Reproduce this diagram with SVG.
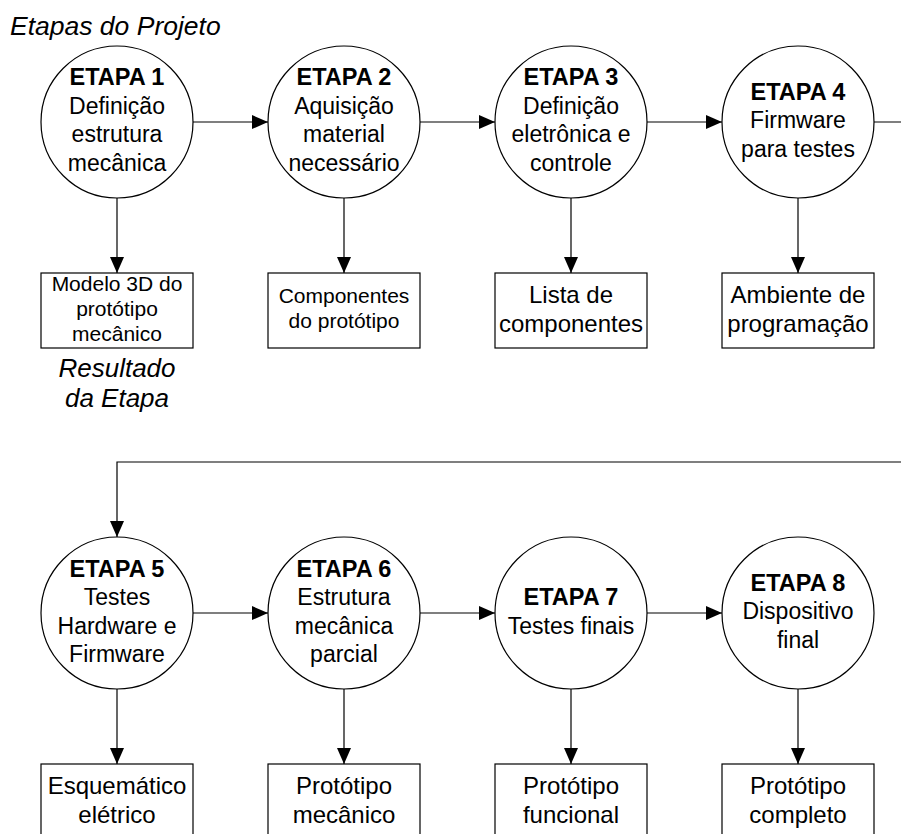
<svg xmlns="http://www.w3.org/2000/svg" width="901" height="834" viewBox="0 0 901 834">
  <style>
    text { font-family: "Liberation Sans", Arial, sans-serif; fill: #000; text-anchor: middle; }
    .title { font-size: 26.5px; font-style: italic; text-anchor: start; }
    .note { font-size: 26px; font-style: italic; }
    .head { font-size: 23.5px; font-weight: bold; }
    .body { font-size: 23px; }
    .out { font-size: 24px; }
    .outs { font-size: 21px; }
    .stage { fill: #fff; stroke: #000; stroke-width: 1.2; }
    .result { fill: #fff; stroke: #000; stroke-width: 1.2; }
    .link { fill: none; stroke: #000; stroke-width: 1.2; marker-end: url(#arrow); }
  </style>
  <defs>
    <marker id="arrow" markerUnits="userSpaceOnUse" markerWidth="16" markerHeight="14" refX="16" refY="7" orient="auto">
      <path d="M0,0 L16,7 L0,14 Z" fill="#000"/>
    </marker>
  </defs>
  <rect width="901" height="834" fill="#fff"/>

  <text class="title" x="10" y="35">Etapas do Projeto</text>

  <!-- connectors -->
  <g id="connectors">
    <line class="link" x1="193" y1="122" x2="268" y2="122"/>
    <line class="link" x1="420" y1="122" x2="495" y2="122"/>
    <line class="link" x1="647" y1="122" x2="722" y2="122"/>
    <path class="link" d="M874,122 H920 V462 H117 V537"/>
    <line class="link" x1="117" y1="198" x2="117" y2="273"/>
    <line class="link" x1="344" y1="198" x2="344" y2="273"/>
    <line class="link" x1="571" y1="198" x2="571" y2="273"/>
    <line class="link" x1="798" y1="198" x2="798" y2="273"/>
    <line class="link" x1="193" y1="613" x2="268" y2="613"/>
    <line class="link" x1="420" y1="613" x2="495" y2="613"/>
    <line class="link" x1="647" y1="613" x2="722" y2="613"/>
    <line class="link" x1="117" y1="689" x2="117" y2="764"/>
    <line class="link" x1="344" y1="689" x2="344" y2="764"/>
    <line class="link" x1="571" y1="689" x2="571" y2="764"/>
    <line class="link" x1="798" y1="689" x2="798" y2="764"/>
  </g>

  <!-- stages, row 1 -->
  <g id="etapa1">
    <circle class="stage" cx="117" cy="122" r="76"/>
    <text class="head" x="117" y="85">ETAPA 1</text>
    <text class="body" x="117" y="113.5">Definição</text>
    <text class="body" x="117" y="142">estrutura</text>
    <text class="body" x="117" y="170.5">mecânica</text>
  </g>
  <g id="etapa2">
    <circle class="stage" cx="344" cy="122" r="76"/>
    <text class="head" x="344" y="85">ETAPA 2</text>
    <text class="body" x="344" y="113.5">Aquisição</text>
    <text class="body" x="344" y="142">material</text>
    <text class="body" x="344" y="170.5">necessário</text>
  </g>
  <g id="etapa3">
    <circle class="stage" cx="571" cy="122" r="76"/>
    <text class="head" x="571" y="85">ETAPA 3</text>
    <text class="body" x="571" y="113.5">Definição</text>
    <text class="body" x="571" y="142">eletrônica e</text>
    <text class="body" x="571" y="170.5">controle</text>
  </g>
  <g id="etapa4">
    <circle class="stage" cx="798" cy="122" r="76"/>
    <text class="head" x="798" y="99.5">ETAPA 4</text>
    <text class="body" x="798" y="128">Firmware</text>
    <text class="body" x="798" y="156.5">para testes</text>
  </g>

  <!-- results, row 1 -->
  <g id="resultado1">
    <rect class="result" x="41" y="273" width="152" height="75"/>
    <text class="outs" x="117" y="291">Modelo 3D do</text>
    <text class="outs" x="117" y="316">protótipo</text>
    <text class="outs" x="117" y="341">mecânico</text>
  </g>
  <g id="resultado2">
    <rect class="result" x="268" y="273" width="152" height="75"/>
    <text class="outs" x="344" y="303">Componentes</text>
    <text class="outs" x="344" y="328">do protótipo</text>
  </g>
  <g id="resultado3">
    <rect class="result" x="495" y="273" width="152" height="75"/>
    <text class="out" x="571" y="303">Lista de</text>
    <text class="out" x="571" y="332">componentes</text>
  </g>
  <g id="resultado4">
    <rect class="result" x="722" y="273" width="152" height="75"/>
    <text class="out" x="798" y="303">Ambiente de</text>
    <text class="out" x="798" y="332">programação</text>
  </g>

  <g id="legenda">
    <text class="note" x="117" y="377">Resultado</text>
    <text class="note" x="117" y="407">da Etapa</text>
  </g>

  <!-- stages, row 2 -->
  <g id="etapa5">
    <circle class="stage" cx="117" cy="613" r="76"/>
    <text class="head" x="117" y="576.5">ETAPA 5</text>
    <text class="body" x="117" y="605">Testes</text>
    <text class="body" x="117" y="633.5">Hardware e</text>
    <text class="body" x="117" y="662">Firmware</text>
  </g>
  <g id="etapa6">
    <circle class="stage" cx="344" cy="613" r="76"/>
    <text class="head" x="344" y="576.5">ETAPA 6</text>
    <text class="body" x="344" y="605">Estrutura</text>
    <text class="body" x="344" y="633.5">mecânica</text>
    <text class="body" x="344" y="662">parcial</text>
  </g>
  <g id="etapa7">
    <circle class="stage" cx="571" cy="613" r="76"/>
    <text class="head" x="571" y="605">ETAPA 7</text>
    <text class="body" x="571" y="634">Testes finais</text>
  </g>
  <g id="etapa8">
    <circle class="stage" cx="798" cy="613" r="76"/>
    <text class="head" x="798" y="590.5">ETAPA 8</text>
    <text class="body" x="798" y="619">Dispositivo</text>
    <text class="body" x="798" y="647.5">final</text>
  </g>

  <!-- results, row 2 -->
  <g id="resultado5">
    <rect class="result" x="41" y="764" width="152" height="75"/>
    <text class="out" x="117" y="794">Esquemático</text>
    <text class="out" x="117" y="823">elétrico</text>
  </g>
  <g id="resultado6">
    <rect class="result" x="268" y="764" width="152" height="75"/>
    <text class="out" x="344" y="794">Protótipo</text>
    <text class="out" x="344" y="823">mecânico</text>
  </g>
  <g id="resultado7">
    <rect class="result" x="495" y="764" width="152" height="75"/>
    <text class="out" x="571" y="794">Protótipo</text>
    <text class="out" x="571" y="823">funcional</text>
  </g>
  <g id="resultado8">
    <rect class="result" x="722" y="764" width="152" height="75"/>
    <text class="out" x="798" y="794">Protótipo</text>
    <text class="out" x="798" y="823">completo</text>
  </g>
</svg>
